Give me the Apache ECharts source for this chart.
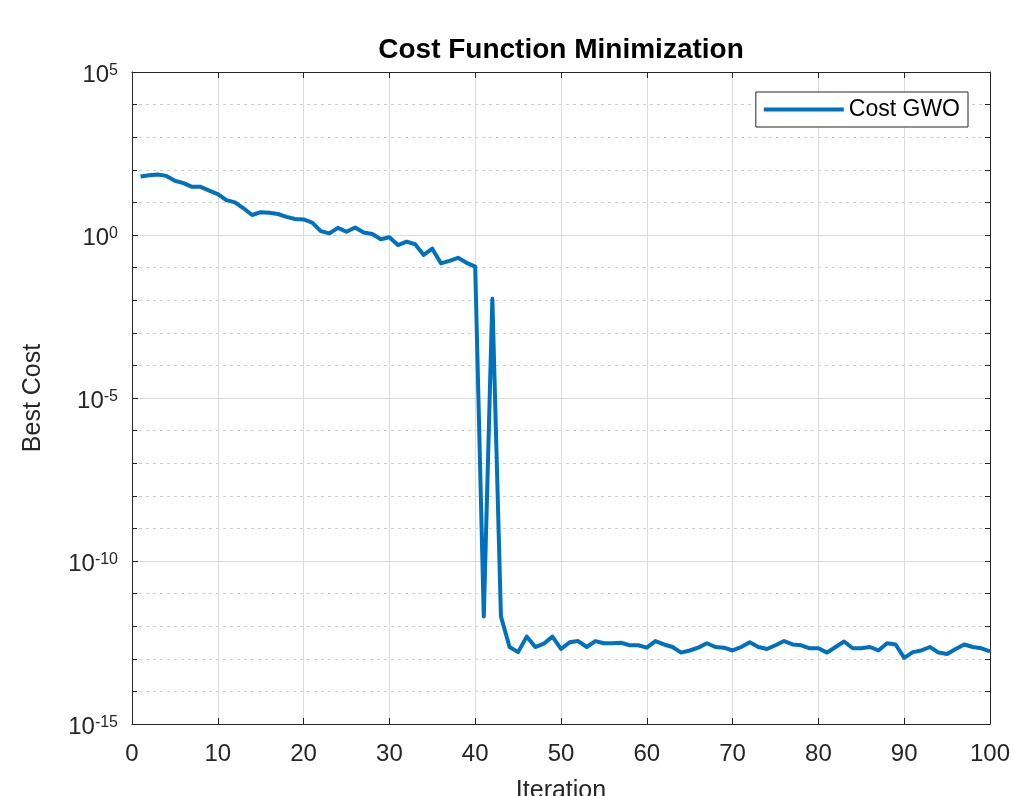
<!DOCTYPE html>
<html>
<head>
<meta charset="utf-8">
<script src="https://cdn.jsdelivr.net/npm/echarts@6/dist/echarts.min.js"></script>
<style>html,body{margin:0;padding:0;background:#fff}#c{width:1013px;height:796px}</style>
</head>
<body>
<div id="c"></div>
<script>
const titleText = 'Cost Function Minimization';
const xLabel = 'Iteration';
const yLabel = 'Best Cost';
const seriesName = 'Cost GWO';
const xTicks = [0,10,20,30,40,50,60,70,80,90,100];
const iterations = [];
for (let i = 1; i <= 100; i++) iterations.push(i);
const bestCost = [
  62, 68, 72, 65, 46, 39, 30, 30, 23, 18,
  11.7, 10, 6.6, 4.1, 5.0, 4.8, 4.4, 3.6, 3.1, 3.0,
  2.4, 1.32, 1.12, 1.66, 1.26, 1.7, 1.2, 1.07, 0.74, 0.85,
  0.49, 0.63, 0.52, 0.245, 0.38, 0.135, 0.16, 0.2, 0.14, 0.107,
  2.0e-12, 1.1e-2, 2.0e-12, 2.3e-13, 1.6e-13, 4.8e-13, 2.3e-13, 2.9e-13, 4.8e-13, 2.0e-13,
  3.2e-13, 3.5e-13, 2.3e-13, 3.5e-13, 3.0e-13, 3.0e-13, 3.1e-13, 2.6e-13, 2.6e-13, 2.2e-13,
  3.5e-13, 2.75e-13, 2.3e-13, 1.55e-13, 1.8e-13, 2.2e-13, 3.0e-13, 2.3e-13, 2.2e-13, 1.8e-13,
  2.3e-13, 3.2e-13, 2.3e-13, 2.0e-13, 2.6e-13, 3.5e-13, 2.75e-13, 2.6e-13, 2.1e-13, 2.1e-13,
  1.55e-13, 2.3e-13, 3.4e-13, 2.1e-13, 2.1e-13, 2.3e-13, 1.8e-13, 3.0e-13, 2.75e-13, 1.07e-13,
  1.6e-13, 1.8e-13, 2.3e-13, 1.55e-13, 1.4e-13, 2.0e-13, 2.75e-13, 2.3e-13, 2.1e-13, 1.7e-13
];
const yMin = 1e-15, yMax = 1e5;

const FONT = '"Liberation Sans", Arial, Helvetica, sans-serif';
const AX = '#262626';
const chart = echarts.init(document.getElementById('c'), null, {renderer: 'canvas'});
const gridL = 132, gridR = 23, gridT = 72, gridB = 72;
const data = iterations.map((x, i) => [x, bestCost[i]]);

chart.setOption({
  animation: false,
  backgroundColor: '#fff',
  grid: {left: gridL, right: gridR, top: gridT, bottom: gridB, containLabel: false, outerBoundsMode: 'none'},
  graphic: [{
    type: 'text', x: (gridL + (1013 - gridR)) / 2, y: 50,
    style: {text: titleText, font: 'bold 28px ' + FONT, fill: '#000', align: 'center', verticalAlign: 'middle'}
  }],
  legend: {
    data: [seriesName], right: 45, top: 92, icon: 'rect', itemWidth: 80, itemHeight: 4,
    padding: [6, 8, 6, 8], borderColor: AX, borderWidth: 1, backgroundColor: '#fff',
    itemStyle: {color: '#0072BD'},
    textStyle: {fontFamily: FONT, fontSize: 23, color: '#000'}
  },
  xAxis: [{
    type: 'value', position: 'bottom', min: 0, max: 100, interval: 10,
    name: xLabel, nameLocation: 'middle', nameGap: 55,
    nameTextStyle: {fontFamily: FONT, fontSize: 25, color: AX},
    axisLine: {show: true, lineStyle: {color: AX, width: 1}},
    axisTick: {show: true, inside: true, length: 6, lineStyle: {color: AX}},
    axisLabel: {fontFamily: FONT, fontSize: 24, color: AX, margin: 18},
    splitLine: {show: true, lineStyle: {color: '#dcdcdc', width: 1}}
  }, {
    type: 'value', position: 'top', min: 0, max: 100, interval: 10,
    axisLine: {show: true, onZero: false, lineStyle: {color: AX, width: 1}},
    axisTick: {show: true, inside: true, length: 6, lineStyle: {color: AX}},
    axisLabel: {show: false}, splitLine: {show: false}
  }],
  yAxis: [{
    type: 'log', logBase: 10, position: 'left', min: yMin, max: yMax, interval: 5,
    name: yLabel, nameLocation: 'middle', nameGap: 86,
    nameTextStyle: {fontFamily: FONT, fontSize: 25, color: AX},
    axisLine: {show: true, lineStyle: {color: AX, width: 1}},
    axisTick: {show: true, inside: true, length: 6, lineStyle: {color: AX}},
    axisLabel: {
      margin: 14,
      formatter: function (v) { const e = Math.round(Math.log10(v)); return '{b|10}{s|' + e + '}'; },
      rich: {
        b: {fontFamily: FONT, fontSize: 24, color: AX, lineHeight: 30, verticalAlign: 'bottom', padding: [8, 0, 0, 0]},
        s: {fontFamily: FONT, fontSize: 16, color: AX, lineHeight: 30, verticalAlign: 'top', padding: [6, 0, 0, 0]}
      }
    },
    splitLine: {show: true, lineStyle: {color: '#dcdcdc', width: 1}}
  }, {
    type: 'log', logBase: 10, position: 'left', min: yMin, max: yMax, interval: 1,
    axisLine: {show: false},
    axisTick: {show: true, inside: true, length: 5, lineStyle: {color: AX}},
    axisLabel: {show: false},
    splitLine: {show: true, lineStyle: {color: ['rgba(0,0,0,0)', '#cfcfcf', '#cfcfcf', '#cfcfcf', '#cfcfcf'], width: 1, type: [3, 4]}}
  }, {
    type: 'log', logBase: 10, position: 'right', min: yMin, max: yMax, interval: 1,
    axisLine: {show: true, onZero: false, lineStyle: {color: AX, width: 1}},
    axisTick: {show: true, inside: true, length: 5, lineStyle: {color: AX}},
    axisLabel: {show: false}, splitLine: {show: false}
  }],
  series: [{
    name: seriesName, type: 'line', xAxisIndex: 0, yAxisIndex: 0,
    data: data, symbol: 'none', showSymbol: false,
    lineStyle: {color: '#0072BD', width: 4, join: 'round'},
    itemStyle: {color: '#0072BD'}
  }]
});
</script>
</body>
</html>
